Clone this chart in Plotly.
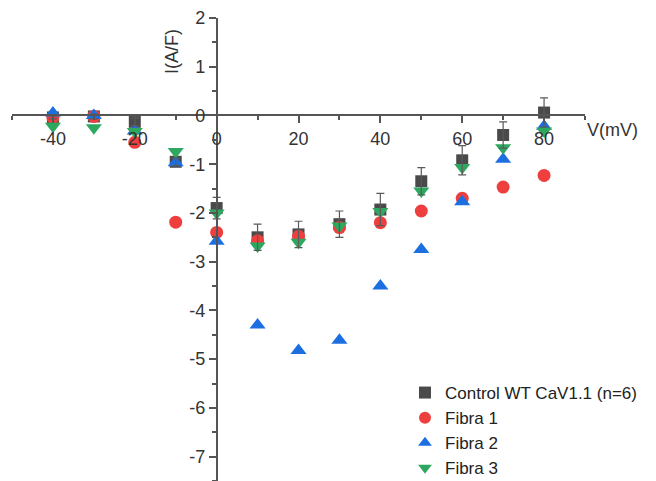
import plotly.graph_objects as go

voltage = [-40, -30, -20, -10, 0, 10, 20, 30, 40, 50, 60, 70, 80]
control = [-0.04, -0.02, -0.13, -0.95, -1.9, -2.5, -2.44, -2.23, -1.93, -1.35, -0.92, -0.4, 0.06]
control_err = [0.03, 0.05, 0.08, 0.08, 0.22, 0.27, 0.27, 0.27, 0.33, 0.28, 0.3, 0.27, 0.3]
fibra1 = [-0.04, -0.02, -0.55, -2.19, -2.4, -2.57, -2.48, -2.3, -2.2, -1.96, -1.7, -1.47, -1.23]
fibra2 = [0.05, 0.0, -0.32, -0.97, -2.58, -4.3, -4.82, -4.61, -3.5, -2.75, -1.77, -0.9, -0.22]
fibra3 = [-0.22, -0.25, -0.33, -0.74, -2.0, -2.68, -2.6, -2.27, -1.97, -1.55, -1.07, -0.66, -0.32]

x_ticks = [-40, -20, 0, 20, 40, 60, 80]
x_ticktext = ["-40", "-20", "0", "20", "40", "60", "80"]
y_ticks = [2, 1, 0, -1, -2, -3, -4, -5, -6, -7]
y_ticktext = ["2", "1", "0", "-1", "-2", "-3", "-4", "-5", "-6", "-7"]

names = ["Control WT CaV1.1 (n=6)", "Fibra 1", "Fibra 2", "Fibra 3"]
colors = ["#4a4a4a", "#ef3e3e", "#1c6fe0", "#2ea85f"]
symbols = ["square", "circle", "triangle-up", "triangle-down"]
sizes = [12, 13, 14, 14]
series = [control, fibra1, fibra2, fibra3]

FONT = "Liberation Sans, Arial, sans-serif"
fig = go.Figure()
for name, ys, c, s, sz in zip(names, series, colors, symbols, sizes):
    fig.add_trace(go.Scatter(x=voltage, y=ys, mode="markers", name=name,
                             marker=dict(symbol=s, color=c, size=sz, line=dict(width=0))))
# error bars drawn on top
fig.add_trace(go.Scatter(x=voltage, y=control, mode="markers", showlegend=False,
                         marker=dict(color="rgba(0,0,0,0)", size=1),
                         error_y=dict(type="data", array=control_err, color="#5a5a5a",
                                      thickness=1.2, width=4), hoverinfo="skip"))

W, H = 656, 481
ml, mr, mt, mb = 12, 71, 18, 0
pw, ph = W - ml - mr, H - mt - mb
xr = [-50, 90]
yr = [-7.5, 2]

def px(xp):
    return (xp - ml) / pw

def py(yp):
    return (H - mb - yp) / ph

axis_common = dict(showgrid=False, zeroline=False, showline=True, linecolor="#555555", linewidth=1.5,
                   ticks="outside", ticklen=7, tickwidth=1.5, tickcolor="#555555",
                   automargin=False, tickfont=dict(size=18, color="#333333"))

fig.update_layout(
    width=W, height=H, margin=dict(l=ml, r=mr, t=mt, b=mb, autoexpand=False),
    plot_bgcolor="white", paper_bgcolor="white",
    font=dict(family=FONT, size=18, color="#333333"),
    xaxis=dict(range=xr, anchor="free", position=(0 - yr[0]) / (yr[1] - yr[0]),
               tickvals=x_ticks, ticktext=x_ticktext,
               minor=dict(ticks="outside", ticklen=4, tickwidth=1.5, tickcolor="#555555",
                          tickvals=[-50, -30, -10, 10, 30, 50, 70, 90]),
               **axis_common),
    yaxis=dict(range=yr, anchor="free", position=(0 - xr[0]) / (xr[1] - xr[0]),
               tickvals=y_ticks, ticktext=y_ticktext,
               minor=dict(ticks="outside", ticklen=4, tickwidth=1.5, tickcolor="#555555",
                          tickvals=[1.5, 0.5, -0.5, -1.5, -2.5, -3.5, -4.5, -5.5, -6.5, -7.5]),
               **axis_common),
    legend=dict(x=px(405), y=py(375), xanchor="left", yanchor="top",
                bgcolor="rgba(0,0,0,0)", font=dict(size=17, color="#222222"),
                tracegroupgap=0, itemsizing="constant"),
    showlegend=True,
    annotations=[
        dict(text="I(A/F)", xref="paper", yref="paper", x=px(172), y=py(52),
             textangle=-90, showarrow=False, font=dict(size=18, color="#333333"),
             xanchor="center", yanchor="middle"),
        dict(text="V(mV)", xref="paper", yref="paper", x=px(612), y=py(130),
             showarrow=False, font=dict(size=18, color="#333333"),
             xanchor="center", yanchor="middle"),
    ],
)

fig.write_html("out.html")
